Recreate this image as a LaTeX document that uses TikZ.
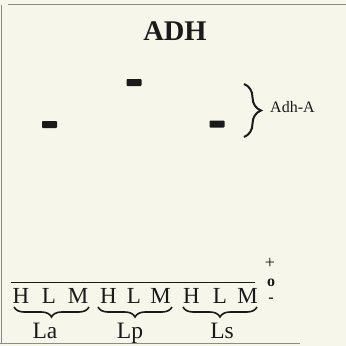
\documentclass[tikz,border=0pt]{standalone}
\usepackage{fontspec}
\setmainfont{Liberation Serif}
\usetikzlibrary{decorations.pathreplacing}
\definecolor{paper}{HTML}{F6F6EA}
\definecolor{frame}{HTML}{8C8C84}
\definecolor{ink}{HTML}{1A1A1A}
\tikzset{
  band/.style={fill=ink, draw=none, minimum width=15pt, minimum height=7pt, inner sep=0pt, rounded corners=0.8pt},
  lane/.style={font=\fontsize{23}{25}\selectfont, text=ink, inner sep=0pt, anchor=base},
  grouplabel/.style={font=\fontsize{23.5}{25}\selectfont, text=ink, inner sep=0pt, anchor=base},
  charge/.style={font=\fontsize{18}{19}\selectfont, text=ink, inner sep=0pt},
  bigbrace/.style={decorate, decoration={brace, amplitude=17pt}, line width=2pt, draw=ink},
  underbrace/.style={decorate, decoration={brace, mirror, amplitude=10pt}, line width=1.6pt, draw=ink},
  frameline/.style={draw=frame, line width=1.1pt}
}
\begin{document}
\begin{tikzpicture}[x=1pt, y=-1pt]
  \fill[paper] (0,0) rectangle (346,346);
  \useasboundingbox (0,0) rectangle (346,346);

  % page frame remnants
  \coordinate (ftl) at (8,4.5);
  \coordinate (ftr) at (346,4.5);
  \coordinate (fl0) at (1.5,5);
  \coordinate (fl1) at (1.5,344);
  \coordinate (fb0) at (0,343.5);
  \coordinate (fb1) at (300,343.5);
  \draw[frameline] (ftl) -- (ftr);
  \draw[frameline] (fl0) -- (fl1);
  \draw[frameline] (fb0) -- (fb1);

  % title
  \node[font=\bfseries\fontsize{28.5}{30}\selectfont, text=ink, inner sep=0pt, anchor=base] (title) at (175,40) {ADH};

  % enzyme bands
  \node[band] (bandLa) at (49.5,124.5) {};
  \node[band] (bandLp) at (134,82.5) {};
  \node[band] (bandLs) at (217,124) {};

  % locus brace and label
  \coordinate (brTop) at (244,84);
  \coordinate (brBot) at (244,137);
  \draw[bigbrace] (brTop) -- (brBot);
  \node[font=\fontsize{16}{18}\selectfont, text=ink, inner sep=0pt, anchor=west] (adhA) at (270,107) {Adh-A};

  % origin line
  \coordinate (orig0) at (11,282);
  \coordinate (orig1) at (255,282);
  \draw[draw=ink, line width=1pt] (orig0) -- (orig1);

  % lanes
  \node[lane] (hLa) at (21,303) {H};
  \node[lane] (lLa) at (49,303) {L};
  \node[lane] (mLa) at (78,303) {M};
  \node[lane] (hLp) at (108.5,303) {H};
  \node[lane] (lLp) at (134,303) {L};
  \node[lane] (mLp) at (160.5,303) {M};
  \node[lane] (hLs) at (191.5,303) {H};
  \node[lane] (lLs) at (220,303) {L};
  \node[lane] (mLs) at (247.5,303) {M};

  % group braces
  \coordinate (ga0) at (14,307);
  \coordinate (ga1) at (89,307);
  \coordinate (gp0) at (98,307);
  \coordinate (gp1) at (172,307);
  \coordinate (gs0) at (183,307);
  \coordinate (gs1) at (257,307);
  \draw[underbrace] (ga0) -- (ga1);
  \draw[underbrace] (gp0) -- (gp1);
  \draw[underbrace] (gs0) -- (gs1);

  \node[grouplabel] (La) at (45,338) {La};
  \node[grouplabel] (Lp) at (130,338) {Lp};
  \node[grouplabel] (Ls) at (222,338) {Ls};

  % charge signs
  \node[charge] (plus) at (270,263) {+};
  \node[charge, font=\bfseries\fontsize{16}{17}\selectfont] (zero) at (271,283) {o};
  \node[charge, font=\bfseries\fontsize{16}{17}\selectfont] (minus) at (271,300) {-};
\end{tikzpicture}
\end{document}
